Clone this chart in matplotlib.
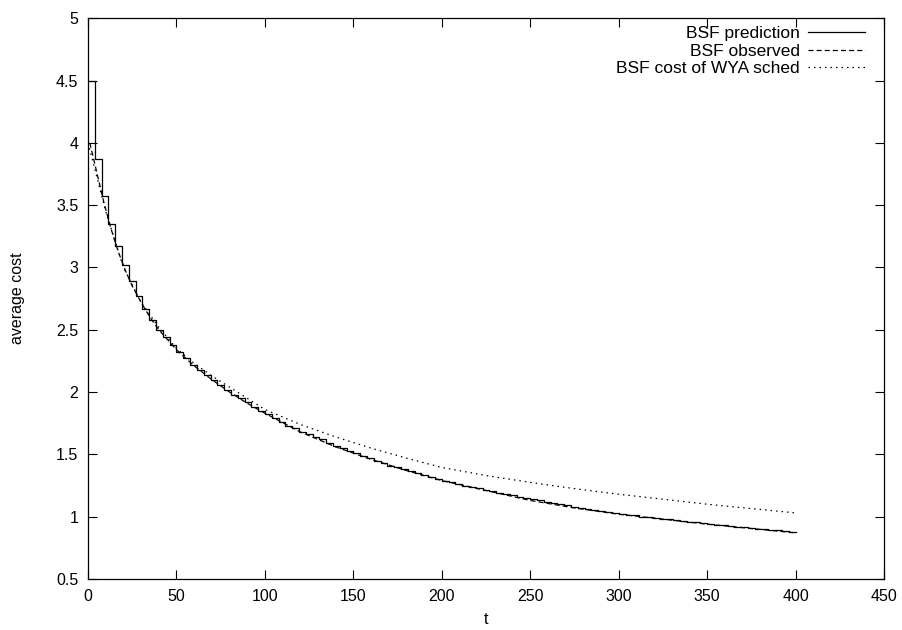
import numpy as np
import matplotlib
matplotlib.use("Agg")
import matplotlib.pyplot as plt

plt.rcParams['font.family'] = ['Liberation Sans', 'DejaVu Sans']

# BSF prediction: piecewise constant, one value per scheduling step
pred_t = np.linspace(0, 400, 105)
pred_cost = [
    4.50, 3.87, 3.57, 3.35, 3.17, 3.02, 2.89, 2.77, 2.67, 2.58,
    2.50, 2.44, 2.38, 2.32, 2.27, 2.22, 2.18, 2.14, 2.10, 2.06,
    2.02, 1.98, 1.95, 1.92, 1.88, 1.85, 1.82, 1.79, 1.76, 1.73,
    1.71, 1.68, 1.66, 1.64, 1.62, 1.59, 1.57, 1.55, 1.53, 1.51,
    1.49, 1.47, 1.45, 1.43, 1.41, 1.40, 1.38, 1.365, 1.35, 1.335,
    1.32, 1.305, 1.29, 1.275, 1.265, 1.25, 1.24, 1.23, 1.215, 1.205,
    1.19, 1.18, 1.17, 1.16, 1.15, 1.14, 1.13, 1.12, 1.11, 1.10,
    1.09, 1.08, 1.07, 1.06, 1.055, 1.045, 1.04, 1.03, 1.02, 1.015,
    1.01, 1.00, 0.995, 0.99, 0.985, 0.98, 0.97, 0.965, 0.96, 0.955,
    0.95, 0.94, 0.935, 0.93, 0.925, 0.92, 0.915, 0.91, 0.905, 0.90,
    0.895, 0.89, 0.885, 0.88, 0.875,
]

# BSF observed average cost
obs_t = [1, 5, 9, 13, 17, 21, 25, 30, 35, 40, 50, 60, 70, 80, 90, 100,
         120, 140, 160, 180, 200, 225, 250, 275, 300, 325, 350, 375, 400]
obs_cost = [4.00, 3.76, 3.52, 3.31, 3.13, 2.98, 2.85, 2.72, 2.60, 2.50,
            2.34, 2.21, 2.10, 2.00, 1.91, 1.83, 1.68, 1.56, 1.46, 1.37,
            1.29, 1.21, 1.13, 1.07, 1.02, 0.98, 0.94, 0.905, 0.87]

# BSF cost of WYA schedule
wya_t = [0, 10, 20, 30, 40, 50, 60, 70, 80, 90, 100, 120, 140, 160, 180,
         200, 225, 250, 275, 300, 325, 350, 375, 400]
wya_cost = [4.00, 3.45, 3.00, 2.72, 2.52, 2.35, 2.23, 2.13, 2.04, 1.95,
            1.86, 1.74, 1.64, 1.55, 1.47, 1.395, 1.33, 1.275, 1.225,
            1.18, 1.14, 1.10, 1.065, 1.03]

fig = plt.figure(figsize=(9.03, 6.30), dpi=100)
ax = fig.add_axes([0.0975, 0.081, 0.8815, 0.890])

ax.step(pred_t, pred_cost, where='post', color='black', lw=0.9,
        label='BSF prediction')
ax.plot(obs_t, obs_cost, color='black', lw=0.9, dashes=(4, 2.5),
        label='BSF observed')
ax.plot(wya_t, wya_cost, color='black', lw=0.9, dashes=(1.2, 3.2),
        label='BSF cost of WYA sched')

ax.set_xlim(0, 450)
ax.set_ylim(0.5, 5)
ax.set_xticks(np.arange(0, 451, 50))
ax.set_yticks(np.arange(0.5, 5.01, 0.5))
ax.set_yticklabels(['0.5', '1', '1.5', '2', '2.5', '3', '3.5', '4', '4.5', '5'])
ax.tick_params(direction='in', length=6.5, width=0.8, top=True, right=True,
               labelsize=11.5, pad=7)
for s in ax.spines.values():
    s.set_linewidth(0.9)

ax.set_xlabel('t', fontsize=11.5, labelpad=6)
ax.set_ylabel('average cost', fontsize=11.5, labelpad=22)

ax.legend(loc='upper right', bbox_to_anchor=(0.976, 0.986), frameon=False,
          markerfirst=False, fontsize=12.5, handlelength=3.3,
          handletextpad=0.46, labelspacing=0.14, borderaxespad=0,
          borderpad=0)

fig.savefig('out.png', dpi=100)
